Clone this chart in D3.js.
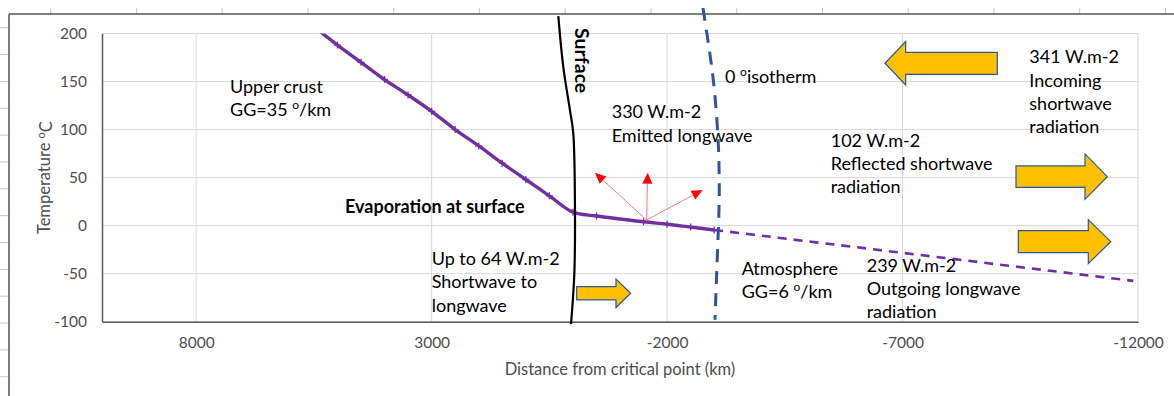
<!DOCTYPE html>
<html>
<head>
<meta charset="utf-8">
<script src="https://cdn.jsdelivr.net/npm/d3@7"></script>
<style>
  body { margin: 0; background: #fff; }
  svg { display: block; font-family: Lato, "Open Sans", sans-serif; }
</style>
</head>
<body>
<svg id="chart" width="1174" height="396"></svg>
<script>
// ---- data (km from critical point, temperature in C) ----
var crustKm   = [5500, 5000, 4500, 4000, 3500, 3000, 2500, 2000, 1500, 1000, 500, 0];
var crustTemp = [207, 188, 170, 152, 136, 119, 100, 83, 65, 48, 31, 14];
var atmosKm   = [-500, -1500, -2000, -2500, -3000];
var atmosTemp = [10, 4, 1.5, -1.5, -4.5];
var projKm    = [-3000, -11900];
var projTemp  = [-4.5, -57.5];

var xTicks = [8000, 3000, -2000, -7000, -12000];
var yTicks = [200, 150, 100, 50, 0, -50, -100];

// drawn shapes on the chart, in km / C
var surfaceKm   = [310, 204, 62, -8, -44, -30, 40];
var surfaceTemp = [218, 165, 120, 96, 15, -50, -102.5];
var isoKm   = [-2762, -2947, -3017, -3087, -3108, -3100, -3053, -3017];
var isoTemp = [226.5, 165.4, 134.2, 85.7, 40.5, 13, -49.3, -98];

var svg = d3.select("#chart");
var plotL = 102, plotR = 1138, plotT = 33.5, plotB = 321.7;

var x = d3.scaleLinear().domain([10000, -12000]).range([plotL, plotR]);
var y = d3.scaleLinear().domain([-100, 200]).range([plotB, plotT]);

// outer frame with little ruler ticks
var frame = svg.append("g");
frame.selectAll(".rt").data(d3.range(14)).enter().append("line")
  .attr("x1", function(d){ return 50.7 + d*85.75; }).attr("x2", function(d){ return 50.7 + d*85.75; })
  .attr("y1", 8).attr("y2", 14).attr("stroke", "#c8c8c8");
frame.selectAll(".lt").data(d3.range(14)).enter().append("line")
  .attr("y1", function(d){ return 27.7 + d*26.85; }).attr("y2", function(d){ return 27.7 + d*26.85; })
  .attr("x1", 0).attr("x2", 9).attr("stroke", "#c8c8c8");
frame.append("line").attr("x1", 9).attr("x2", 1174).attr("y1", 14).attr("y2", 14)
  .attr("stroke", "#555").attr("stroke-width", 1.5);
frame.append("line").attr("x1", 9).attr("x2", 9).attr("y1", 14).attr("y2", 396)
  .attr("stroke", "#555").attr("stroke-width", 1.5);

// gridlines
var grid = svg.append("g").attr("stroke", "#d9d9d9").attr("stroke-width", 1);
grid.selectAll(".hg").data(yTicks).enter().append("line")
  .attr("x1", plotL).attr("x2", plotR)
  .attr("y1", function(d){ return y(d); }).attr("y2", function(d){ return y(d); });
grid.selectAll(".vg").data(xTicks).enter().append("line")
  .attr("y1", plotT).attr("y2", plotB)
  .attr("x1", function(d){ return x(d); }).attr("x2", function(d){ return x(d); });

// axes
var yAxis = svg.append("g").attr("transform", "translate(" + plotL + ",0)")
  .call(d3.axisLeft(y).tickValues(yTicks).tickSize(0).tickSizeOuter(0).tickPadding(15)
    .tickFormat(function(d){ return String(d); }));
var xAxis = svg.append("g").attr("transform", "translate(0," + plotB + ")")
  .call(d3.axisBottom(x).tickValues(xTicks).tickSize(0).tickSizeOuter(0).tickPadding(15)
    .tickFormat(function(d){ return String(d); }));
[xAxis, yAxis].forEach(function(a){
  a.select(".domain").attr("stroke", "#595959").attr("stroke-width", 1.5);
  a.selectAll("text").attr("fill", "#4d4d4d").style("font-size", "15.5px").style("font-family", "Lato, sans-serif");
});

svg.append("text").attr("x", (plotL + plotR) / 2 + 0).attr("y", 375)
  .attr("text-anchor", "middle").attr("fill", "#4d4d4d").style("font-size", "16.5px")
  .text("Distance from critical point (km)");
var yt = svg.append("text").attr("transform", "translate(50," + ((plotT + plotB) / 2) + ") rotate(-90)")
  .attr("text-anchor", "middle").attr("fill", "#4d4d4d").style("font-size", "16.5px");
yt.append("tspan").text("Temperature ");
yt.append("tspan").attr("dy", "-0.45em").style("font-size", "11px").text("o");
yt.append("tspan").attr("dy", "0.45em").text("C");

// clip for the series
svg.append("clipPath").attr("id", "plotclip").append("rect")
  .attr("x", plotL).attr("y", plotT).attr("width", plotR - plotL).attr("height", plotB - plotT);

var crust = crustKm.map(function(d, i){ return [d, crustTemp[i]]; });
var atmos = atmosKm.map(function(d, i){ return [d, atmosTemp[i]]; });
var proj  = projKm.map(function(d, i){ return [d, projTemp[i]]; });
var main  = crust.concat(atmos);

var line = d3.line().x(function(d){ return x(d[0]); }).y(function(d){ return y(d[1]); });
var series = svg.append("g").attr("clip-path", "url(#plotclip)");

series.append("path").datum(proj)
  .attr("d", line).attr("fill", "none").attr("stroke", "#7030a0")
  .attr("stroke-width", 2.6).attr("stroke-dasharray", "9,7");
series.append("path").datum(main)
  .attr("d", line.curve(d3.curveCatmullRom.alpha(0.5))).attr("fill", "none")
  .attr("stroke", "#7030a0").attr("stroke-width", 3.4).attr("stroke-linejoin", "round");
series.selectAll(".mk").data(main).enter().append("path")
  .attr("d", function(d){
    var px = x(d[0]), py = y(d[1]);
    return "M" + px + "," + (py - 3.5) + "V" + (py + 3.5) + "M" + (px - 3.5) + "," + py + "H" + (px + 3.5);
  })
  .attr("stroke", "#7030a0").attr("stroke-width", 1.3);

// surface line and 0 degree isotherm
var shapeLine = d3.line().x(function(d){ return x(d[0]); }).y(function(d){ return y(d[1]); })
  .curve(d3.curveCatmullRom.alpha(0.5));
svg.append("path").datum(surfaceKm.map(function(d, i){ return [d, surfaceTemp[i]]; }))
  .attr("d", shapeLine).attr("fill", "none").attr("stroke", "#000").attr("stroke-width", 2.2);
svg.append("path").datum(isoKm.map(function(d, i){ return [d, isoTemp[i]]; }))
  .attr("d", shapeLine).attr("fill", "none").attr("stroke", "#2f5597")
  .attr("stroke-width", 3).attr("stroke-dasharray", "13,9");

// emitted longwave arrows (red)
var rayFrom = [-1566, 5.9];
var rayTo = [[-468, 55.1], [-1587, 55.1], [-2756, 37.1]];
rayTo.forEach(function(t){
  var x0 = x(rayFrom[0]), y0 = y(rayFrom[1]), x1 = x(t[0]), y1 = y(t[1]);
  var ang = Math.atan2(y1 - y0, x1 - x0), L = 11, W = 5;
  var bx = x1 - L * Math.cos(ang), by = y1 - L * Math.sin(ang);
  svg.append("line").attr("x1", x0).attr("y1", y0).attr("x2", bx).attr("y2", by)
    .attr("stroke", "#ff7a7a").attr("stroke-width", 1);
  svg.append("path").attr("fill", "#ff0000")
    .attr("d", "M" + x1 + "," + y1 +
      "L" + (bx - W * Math.sin(ang)) + "," + (by + W * Math.cos(ang)) +
      "L" + (bx + W * Math.sin(ang)) + "," + (by - W * Math.cos(ang)) + "Z");
});

// yellow block arrows: tail km, tip km, centre temp, shaft half, head half, head length (px)
var blockArrows = [
  [-9012, -6627, 169, 11, 21.7, 20.7],
  [-9409, -11348, 51, 10.7, 22.7, 22.3],
  [-9458, -11420, -16.7, 11, 22, 22.4],
  [-80, -1227, -70.4, 6.7, 14.2, 14.7]
];
blockArrows.forEach(function(a){
  var xt = x(a[0]), xp = x(a[1]), yc = y(a[2]);
  var s = xp > xt ? 1 : -1, xh = xp - s * a[5];
  var pts = [[xt, yc - a[3]], [xh, yc - a[3]], [xh, yc - a[4]], [xp, yc],
             [xh, yc + a[4]], [xh, yc + a[3]], [xt, yc + a[3]]];
  svg.append("path").attr("d", "M" + pts.join("L") + "Z")
    .attr("fill", "#ffc000").attr("stroke", "#2f5597").attr("stroke-width", 1.2);
});

// text notes
function note(px, py, lines, opts) {
  opts = opts || {};
  var t = svg.append("text").attr("x", px).attr("y", py).attr("fill", "#000")
    .style("font-size", (opts.size || 18) + "px").style("font-weight", opts.bold ? "bold" : "normal");
  lines.forEach(function(l, i){
    var parts = l.split("º");
    t.append("tspan").attr("x", px).attr("dy", i === 0 ? 0 : 23.3).text(parts[0]);
    if (parts.length > 1) {
      t.append("tspan").attr("dy", -7).style("font-size", "12px").text("o");
      t.append("tspan").attr("dy", 7).text(parts[1]);
    }
  });
  return t;
}
note(230, 92.7, ["Upper crust", "GG=35 º/km"]);
note(345, 213.3, ["Evaporation at surface"], {bold: true, size: 18});
note(725, 83.3, ["0 ºisotherm"]);
note(611.7, 118.3, ["330 W.m-2", "Emitted longwave"]);
note(1029.3, 63.3, ["341 W.m-2", "Incoming", "shortwave", "radiation"]);
note(830.7, 146.7, ["102 W.m-2", "Reflected shortwave", "radiation"]);
note(431.7, 265, ["Up to 64 W.m-2", "Shortwave to", "longwave"]);
note(741.7, 275, ["Atmosphere", "GG=6 º/km"]);
note(866.7, 271.7, ["239 W.m-2", "Outgoing longwave", "radiation"]);

svg.append("text").attr("transform", "translate(575,28) rotate(90)")
  .style("font-size", "19.5px").style("font-weight", "bold").attr("fill", "#000").text("Surface");
</script>
</body>
</html>
